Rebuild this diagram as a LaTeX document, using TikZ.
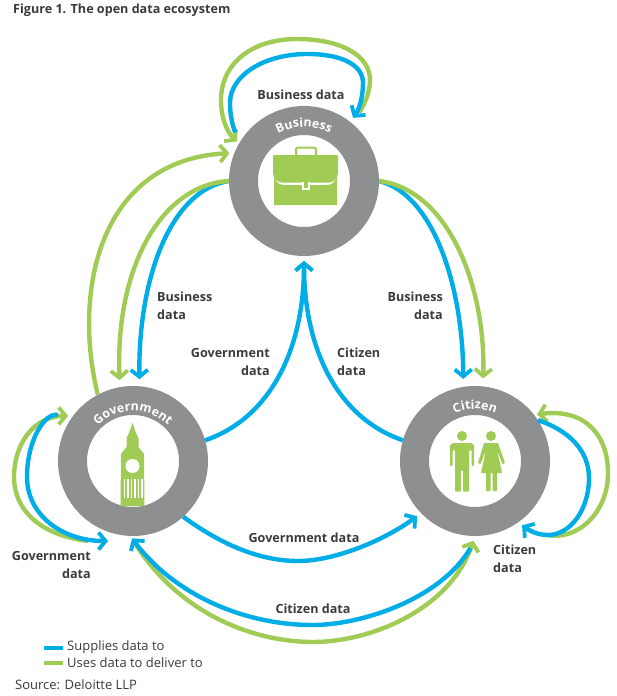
\documentclass[tikz,border=0pt]{standalone}
\usepackage{fontspec}
\setmainfont{Open Sans}
\usetikzlibrary{arrows.meta,decorations.text}
\definecolor{dataBlue}{HTML}{00ADE6}
\definecolor{dataGreen}{HTML}{A0CC55}
\definecolor{ringGrey}{HTML}{8E8F91}
\definecolor{inkGrey}{HTML}{3A3A3C}
\tikzstyle{edgeBlue}=[draw=dataBlue, line width=4.4pt, shorten >=5pt, -{Straight Barb[length=7pt,width=17pt,line width=3.8pt]}]
\tikzstyle{edgeGreen}=[draw=dataGreen, line width=4.4pt, shorten >=5pt, -{Straight Barb[length=7pt,width=17pt,line width=3.8pt]}]
\tikzstyle{ringV}=[circle, draw=ringGrey, fill=white, line width=29pt, minimum size=121pt, inner sep=0pt]
\tikzstyle{textB}=[text=inkGrey, inner sep=0pt, font=\fontsize{12.6}{18}\selectfont\bfseries]
\tikzstyle{textR}=[text=inkGrey, inner sep=0pt, font=\fontsize{13}{16}\selectfont]
\tikzstyle{keyV}=[minimum width=19pt, minimum height=4.4pt, inner sep=0pt]
\tikzstyle{ringText}=[postaction={decorate}, decoration={text along path, text align=center}]
\begin{document}
\begin{tikzpicture}[x=1pt, y=-1pt]
      \useasboundingbox (0,0) rectangle (616,696);
      \node(title) [textB, anchor=west] at (13,10){Figure 1. The open data ecosystem};
      \node(business) [ringV] at (304,181){};
      \node(government) [ringV] at (133,461){};
      \node(citizen) [ringV] at (475,461){};
      \coordinate(govIn) at (108,541);
      \coordinate(govTail) at (88,541);
      \coordinate(citTail) at (547,535);
      \draw[edgeGreen, shorten <=13pt, shorten >=3pt] (business.50) .. controls (362,108) and (370,95) .. (370,80) .. controls (370,55) and (340,39) .. (297,39) .. controls (250,39) and (221,65) .. (221,100) .. controls (221,118) and (227,132) .. (business.150);
      \draw[edgeBlue, shorten <=10pt] (business.148) .. controls (235,132) and (230,120) .. (230,103) .. controls (230,75) and (265,54) .. (307,54) .. controls (342,54) and (363,65) .. (363,83) .. controls (363,95) and (360,108) .. (business.52);
      \draw[edgeBlue, shorten >=7pt] (business.180) .. controls (170,190) and (138,280) .. (government.85);
      \draw[edgeGreen, shorten >=7pt] (business.180) .. controls (160,185) and (115,270) .. (government.100);
      \draw[edgeBlue, shorten >=8pt] (business.0) .. controls (435,195) and (463,290) .. (citizen.99);
      \draw[edgeGreen, shorten >=8pt] (business.0) .. controls (450,190) and (486,290) .. (citizen.84);
      \draw[edgeGreen] (government.118) .. controls (72,290) and (100,160) .. (business.158);
      \draw[edgeBlue] (government.16) .. controls (270,418) and (304,350) .. (business.270);
      \draw[edgeBlue] (citizen.164) .. controls (338,418) and (304,350) .. (business.270);
      \draw[edgeBlue] (government.312) .. controls (215,540) and (255,561) .. (298,561) .. controls (335,561) and (385,540) .. (citizen.224);
      \draw[edgeGreen, shorten <=8pt] (government.268) .. controls (180,615) and (255,642) .. (313,642) .. controls (370,642) and (450,610) .. (citizen.270);
      \draw[edgeBlue, shorten <=14pt, shorten >=3pt] (citizen.272) .. controls (440,600) and (360,625) .. (313,625) .. controls (238,625) and (170,590) .. (government.268);
      \draw[edgeGreen] (govTail) .. controls (40,535) and (14,510) .. (14,477) .. controls (14,445) and (33,416) .. (government.143);
      \draw[edgeBlue, shorten <=14pt, shorten >=0pt] (government.145) .. controls (45,412) and (27,440) .. (27,477) .. controls (27,515) and (62,541) .. (govIn);
      \draw[edgeGreen, shorten >=3pt] (citTail) .. controls (575,541) and (608,515) .. (608,473) .. controls (608,435) and (585,408) .. (citizen.38);
      \draw[edgeBlue] (citizen.33) .. controls (568,430) and (589,450) .. (589,478) .. controls (589,510) and (570,535) .. (548,535) .. controls (538,535) and (530,531) .. (citizen.305);
      \path[ringText, decoration={text={|\color{white}\fontsize{12.4}{14}\selectfont\bfseries|Business}}] (business.center) ++(138:54pt) arc[start angle=138, end angle=42, radius=54pt];
      \path[ringText, decoration={text={|\color{white}\fontsize{12.4}{14}\selectfont\bfseries|Government}}] (government.center) ++(150:50pt) arc[start angle=150, end angle=30, radius=50pt];
      \path[ringText, decoration={text={|\color{white}\fontsize{12.4}{14}\selectfont\bfseries|Citizen}}] (citizen.center) ++(130:52pt) arc[start angle=130, end angle=50, radius=52pt];
      \draw[dataGreen, line width=2pt, rounded corners=2pt] (296,155) -- (296,147.5) -- (316,147.5) -- (316,155);
      \fill[dataGreen, rounded corners=1pt] (273,155) -- (338,155) -- (338,172) .. controls (338,179) and (333,182.5) .. (328,182.5) -- (283,182.5) .. controls (278,182.5) and (273,179) .. (273,172) -- cycle;
      \fill[dataGreen] (274,177) .. controls (276,182) and (279,185) .. (284,185) -- (327,185) .. controls (332,185) and (335,182) .. (337,177) -- (337,205) -- (274,205) -- cycle;
      \fill[white] (302,182) rectangle (310,190);
      \fill[dataGreen] (304,182) rectangle (308,187.5);
      \fill[dataGreen] (132.5,423) -- (136,433) -- (138.5,438) -- (138.5,447) -- (144,454) -- (144.5,506) -- (120.5,506) -- (121,454) -- (126.5,447) -- (126.5,438) -- (129,433) -- cycle;
      \fill[white] (132.5,466) circle (7pt);
      \foreach \barX in {123.5,127,130.5,134,137.5,141}
        \fill[white] (\barX,479) rectangle +(1.6,19);
      \fill[dataGreen] (462,436) circle (5pt);
      \fill[dataGreen] (491,436) circle (5pt);
      \fill[dataGreen, rounded corners=1pt] (450,466) -- (450,445) -- (453,443) -- (471,443) -- (474,445) -- (474,466) -- (471.5,466) -- (471.5,450) -- (469,450) -- (469,491.5) -- (463,491.5) -- (463,470) -- (461,470) -- (461,491.5) -- (455,491.5) -- (455,450) -- (452.5,450) -- (452.5,466) -- cycle;
      \fill[dataGreen, rounded corners=0.6pt] (484,443) -- (498,443) -- (505,463) -- (502.5,464) -- (497,450) -- (502,473) -- (497,473) -- (497,491) -- (492.5,491) -- (492.5,473) -- (490.5,473) -- (490.5,491) -- (486,491) -- (486,473) -- (481,473) -- (486,450) -- (480.5,464) -- (478,463) -- cycle;
      \node(busLoop) [textB] at (301,95){Business data};
      \node(busGov) [textB, align=left, anchor=west] at (157,306){Business\\data};
      \node(busCit) [textB, align=right, anchor=east] at (443,306){Business\\data};
      \node(govBus) [textB, align=right, anchor=east] at (270,362){Government\\data};
      \node(citBus) [textB, align=left, anchor=west] at (337,362){Citizen\\data};
      \node(govCit) [textB] at (304,538){Government data};
      \node(citGov) [textB] at (313,609){Citizen data};
      \node(govLoop) [textB, align=right, anchor=east] at (91,565){Government\\data};
      \node(citLoop) [textB, align=left, anchor=west] at (493,559){Citizen\\data};
      \node(keyBlue) [keyV, fill=dataBlue] at (53,648){};
      \node(keyGreen) [keyV, fill=dataGreen] at (53,663){};
      \node(keyBlueText) [textR, anchor=west] at (67,647){Supplies data to};
      \node(keyGreenText) [textR, anchor=west] at (67,663){Uses data to deliver to};
      \node(source) [textR, anchor=west] at (15,685){Source: Deloitte LLP};
\end{tikzpicture}
\end{document}
